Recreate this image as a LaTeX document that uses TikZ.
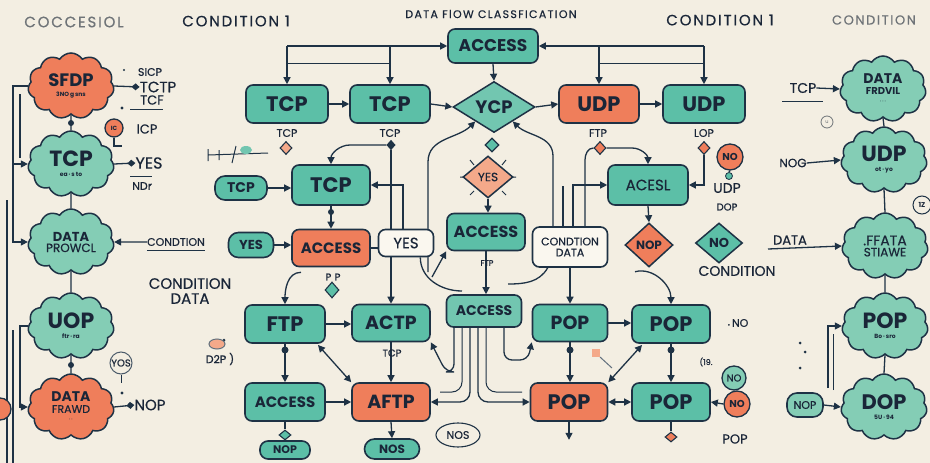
\documentclass[tikz,border=0pt]{standalone}
\usepackage{fontspec}
\setmainfont{Poppins}
\newfontfamily\hdrfont{Poppins}[LetterSpace=12,FakeBold=0.5]
\newfontfamily\medfont{Poppins}[FakeBold=0.5]
\usetikzlibrary{arrows.meta,shapes.geometric,shapes.symbols,calc}
\definecolor{bg}{HTML}{F3EEE2}
\definecolor{tl}{HTML}{5CBFA7}
\definecolor{tlc}{HTML}{84CDB5}
\definecolor{tll}{HTML}{72C6B0}
\definecolor{org}{HTML}{EF7E5B}
\definecolor{orl}{HTML}{F4A98A}
\definecolor{wht}{HTML}{FAF7EF}
\definecolor{dk}{HTML}{1E3245}
\definecolor{txt}{HTML}{1A2638}
\definecolor{gry}{HTML}{6F7478}
\newcommand\fsz[1]{\fontsize{#1}{#1}\selectfont}
\pgfdeclarelayer{back}
\pgfdeclarelayer{lines}
\pgfsetlayers{back,lines,main}
\begin{document}
\begin{tikzpicture}[x=1pt,y=-1pt,
  box/.style={rectangle, rounded corners=7pt, draw=dk, line width=1.6pt, fill=tl, text=txt, inner sep=0pt, font=\bfseries\fsz{21}},
  obox/.style={box, fill=org},
  wbox/.style={box, fill=wht},
  pill/.style={box, rounded corners=10pt, font=\bfseries\fsz{13}},
  dia/.style={diamond, draw=dk, line width=1.5pt, fill=tl, text=txt, inner sep=0pt, aspect=1.5, font=\bfseries\fsz{12}},
  sdia/.style={diamond, draw=dk, line width=1.1pt, minimum width=12pt, minimum height=13pt, inner sep=0pt},
  circ/.style={circle, draw=dk, line width=1.3pt, inner sep=0pt, text=txt},
  cloudn/.style={cloud, cloud puffs=11, cloud puff arc=115, aspect=1.3, draw=dk, line width=1.5pt, fill=tlc, text=txt, minimum width=86pt, minimum height=66pt, inner sep=0pt, align=center},
  cloudo/.style={cloudn, fill=org},
  lbl/.style={text=txt, inner sep=0pt, font=\medfont\fsz{11}},
  hdr/.style={text=txt, inner sep=0pt, font=\hdrfont\fsz{15}},
  ln/.style={draw=dk, line width=1.3pt},
  arr/.style={-{Triangle[length=7pt,width=7pt]}},
  darr/.style={{Triangle[length=7pt,width=7pt]}-{Triangle[length=7pt,width=7pt]}},
  dtip/.style={-{Diamond[length=8pt,width=7pt]}}
]
\begin{pgfonlayer}{back}
\fill[bg] (0,0) rectangle (930,463);
\end{pgfonlayer}
\useasboundingbox (0,0) rectangle (930,463);

% headers
\node[hdr, text=gry] (h1) at (74,22) {COCCESIOL};
\node[hdr] (h2) at (236,21) {CONDITION 1};
\node[hdr, font=\hdrfont\fsz{11}] (h3) at (491,14) {DATA FlOW CLASSFICATION};
\node[hdr] (h4) at (720,20) {CONDITION 1};
\node[hdr, text=gry, font=\hdrfont\fsz{13}] (h5) at (874,20) {CONDITION};

% left clouds
\node[cloudo] (c1) at (71,86) {\fsz{18}\bfseries SFDP\\[-2pt]\fsz{6}\bfseries 3NO\,g\,sns};
\node[cloudn] (c2) at (71,164) {\fsz{22}\bfseries TCP\\[-2pt]\fsz{6}\bfseries ea\,·\,s\,to};
\node[cloudn] (c3) at (71,242) {\fsz{13}\bfseries DATA\\[-1pt]\medfont\fsz{12}PROWCL};
\node[cloudn] (c4) at (71,326) {\fsz{22}\bfseries UOP\\[-2pt]\fsz{6}\bfseries ftr\,·\,ra};
\node[cloudo] (c5) at (71,407) {\fsz{14}\bfseries DATA\\[-1pt]\medfont\fsz{11}FRAWD\\[-3pt]\fsz{6}·\,·};

% right clouds
\node[cloudn] (c6) at (883,89) {\fsz{14}\bfseries DATA\\[-1pt]\fsz{10}\bfseries FRDVIL\\[-3pt]\fsz{6}·\,·\,·};
\node[cloudn] (c7) at (884,160) {\fsz{22}\bfseries UDP\\[-2pt]\fsz{6}\bfseries ot\,·\,yo};
\node[cloudn] (c8) at (885,246) {\medfont\fsz{14}.FFATA\\[-1pt]\medfont\fsz{12}STIAWE};
\node[cloudn] (c9) at (885,326) {\fsz{22}\bfseries POP\\[-2pt]\fsz{6}\bfseries Bo\,·\,sro};
\node[cloudn] (c10) at (884,407) {\fsz{21}\bfseries DOP\\[-2pt]\fsz{6}\bfseries 5U\,·\,94};

% left labels
\node[lbl] (sicp) at (150,72) {SICP};
\node[lbl, font=\medfont\fsz{15}] (tctp) at (158,87) {TCTP};
\node[lbl, font=\medfont\fsz{13}] (tcf) at (152,100) {TCF};
\node[circ, fill=org, minimum size=18pt, font=\bfseries\fsz{6}] (ic) at (114,128) {IC};
\node[lbl, font=\medfont\fsz{13}] (icp) at (147,129) {ICP};
\node[lbl, font=\medfont\fsz{16}] (yes1) at (149,163) {YES};
\node[lbl, font=\medfont\fsz{11}] (ndr) at (142,186) {NDr};
\node[lbl, font=\medfont\fsz{11}] (cond1) at (176,242) {CONDTION};
\node[lbl, font=\medfont\fsz{15}, align=center] (cond2) at (190,291) {CONDITION\\DATA};
\node[circ, draw=dk!80, line width=1pt, minimum size=22pt, font=\medfont\fsz{10}] (yos) at (121,363) {YOS};
\node[lbl, font=\medfont\fsz{15}] (nop1) at (150,405) {NOP};
\node[lbl, font=\medfont\fsz{11}] (d2p) at (220,359) {D2P )};
\node[ellipse, fill=orl, draw=dk!70, line width=1pt, minimum width=16pt, minimum height=10pt, inner sep=0pt] (blob) at (217,344) {};

% top row
\node[box, minimum width=90pt, minimum height=34pt, font=\bfseries\fsz{17}] (acc) at (493,46) {ACCESS};
\node[box, minimum width=82pt, minimum height=38pt] (tcp1) at (287,104) {TCP};
\node[box, minimum width=80pt, minimum height=38pt] (tcp2) at (390,104) {TCP};
\node[dia, fill=tll, minimum width=82pt, minimum height=51pt, font=\bfseries\fsz{18}] (ycp) at (494,107) {YCP};
\node[obox, minimum width=80pt, minimum height=38pt] (udp1) at (599,104) {UDP};
\node[box, minimum width=82pt, minimum height=38pt] (udp2) at (704,104) {UDP};
\node[lbl] (l1) at (287,133) {TCP};
\node[sdia, fill=orl] (d1) at (286,148) {};
\node[lbl] (l2) at (390,133) {TCP};
\node[sdia, fill=dk, minimum width=8pt, minimum height=9pt] (d2) at (391,145) {};
\node[lbl] (l3) at (598,133) {FTP};
\node[sdia, fill=org] (d3) at (600,148) {};
\node[lbl] (l4) at (704,133) {LOP};
\node[sdia, fill=org] (d4) at (704,148) {};

% middle
\node[pill, minimum width=52pt, minimum height=24pt, font=\bfseries\fsz{14}] (tcps) at (241,188) {TCP};
\node[box, minimum width=78pt, minimum height=40pt] (tcpm) at (331,185) {TCP};
\node[pill, minimum width=45pt, minimum height=25pt] (yesp) at (251,245) {YES};
\node[obox, minimum width=78pt, minimum height=37pt, font=\bfseries\fsz{15}] (acco) at (331,248) {ACCESS};
\node[wbox, minimum width=55pt, minimum height=27pt, font=\medfont\fsz{15}] (yesw) at (406,243) {YES};
\node[lbl, font=\medfont\fsz{10}] (l5) at (333,277) {P\,\,P};
\node[sdia, fill=tl, minimum width=14pt, minimum height=16pt] (d5) at (332,290) {};
\node[sdia, fill=tl, minimum width=14pt, minimum height=14pt] (d6) at (492,145) {};
\node[dia, fill=orl, minimum width=50pt, minimum height=42pt, font=\medfont\fsz{12}] (yesd) at (488,177) {YES};
\node[box, minimum width=78pt, minimum height=37pt, font=\bfseries\fsz{16}] (accm) at (486,232) {ACCESS};
\node[lbl, font=\medfont\fsz{8}] (l6) at (487,263) {FTP};
\node[wbox, minimum width=75pt, minimum height=40pt, font=\medfont\fsz{11}, align=center] (cond) at (570,247) {CONDTION\\DATA};
\node[box, minimum width=80pt, minimum height=40pt, font=\medfont\fsz{15}] (acesl) at (648,185) {ACESL};
\node[dia, fill=org, minimum width=48pt, minimum height=44pt, font=\bfseries\fsz{12}] (nopd) at (649,245) {NOP};
\node[dia, fill=tl, minimum width=47pt, minimum height=40pt, font=\bfseries\fsz{13}] (nod) at (719,243) {NO};
\node[lbl, font=\medfont\fsz{14}] (l7) at (737,271) {CONDITION};
\node[circ, fill=org, minimum size=26pt, font=\bfseries\fsz{10}] (no1) at (730,157) {NO};
\node[circ, fill=tl, minimum size=7pt, line width=0.8pt] (nos1) at (729,176) {};
\node[lbl, font=\medfont\fsz{14}] (l8) at (727,188) {UDP};
\node[lbl, font=\medfont\fsz{10}] (l9) at (727,207) {DOP};

% lower
\node[box, minimum width=80pt, minimum height=38pt] (ftp) at (285,324) {FTP};
\node[box, minimum width=78pt, minimum height=37pt, font=\bfseries\fsz{19}] (actp) at (391,323) {ACTP};
\node[lbl, font=\medfont\fsz{10}] (l10) at (392,353) {TCP};
\node[box, minimum width=80pt, minimum height=38pt, font=\bfseries\fsz{15}] (accl) at (285,402) {ACCESS};
\node[obox, minimum width=78pt, minimum height=38pt, font=\bfseries\fsz{19}] (aftp) at (391,402) {AFTP};
\node[sdia, fill=tl, minimum width=12pt, minimum height=10pt] (d7) at (285,435) {};
\node[pill, minimum width=50pt, minimum height=18pt, rounded corners=8pt, font=\bfseries\fsz{11}] (nopp) at (285,450) {NOP};
\node[pill, minimum width=55pt, minimum height=20pt, font=\bfseries\fsz{12}] (nosp) at (392,449) {NOS};
\node[ellipse, draw=dk, line width=1.1pt, minimum width=44pt, minimum height=24pt, inner sep=0pt, font=\medfont\fsz{11}, text=txt] (nose) at (458,435) {NOS};
\node[box, fill=tll, minimum width=75pt, minimum height=32pt, font=\bfseries\fsz{14}] (accl2) at (484,311) {ACCESS};
\node[box, minimum width=75pt, minimum height=37pt, font=\bfseries\fsz{19}] (pop1) at (570,323) {POP};
\node[box, minimum width=78pt, minimum height=38pt] (pop2) at (671,324) {POP};
\node[obox, minimum width=77pt, minimum height=38pt] (pop3) at (569,402) {POP};
\node[box, minimum width=78pt, minimum height=38pt] (pop4) at (671,402) {POP};
\node[sdia, fill=org, minimum width=12pt, minimum height=10pt] (d8) at (671,437) {};
\node[lbl, font=\medfont\fsz{11}] (l11) at (738,323) {{\fsz{6}\textbullet}\,NO};
\node[lbl, font=\medfont\fsz{8}] (l12) at (706,362) {(19.};
\node[circ, fill=tlc, minimum size=24pt, font=\medfont\fsz{10}] (no2) at (734,378) {NO};
\node[circ, fill=org, minimum size=26pt, font=\bfseries\fsz{10}] (no3) at (737,404) {NO};
\node[lbl, font=\medfont\fsz{13}] (l13) at (735,439) {POP};

% right labels
\node[lbl, font=\medfont\fsz{14}] (l14) at (803,88) {TCP};
\node[circ, draw=gry, line width=0.8pt, minimum size=12pt, font=\fsz{5}, text=gry] (sc1) at (827,122) {u};
\node[lbl, font=\medfont\fsz{12}] (l15) at (793,163) {NOG};
\node[lbl, font=\medfont\fsz{13}] (l16) at (790,240) {DATA};
\node[circ, line width=1pt, minimum size=18pt, font=\bfseries\fsz{7}] (sc2) at (922,205) {1Z};
\node[pill, minimum width=36pt, minimum height=24pt, fill=tlc, font=\medfont\fsz{11}] (nopr) at (805,405) {NOP};

\begin{pgfonlayer}{lines}
% top
\draw[ln,arr] (287,46) -- (acc.west);
\draw[ln,arr] (287,46) -- (tcp1.north);
\draw[ln,arr] (390,46) -- (tcp2.north);
\draw[ln,line width=1pt] (287,63) -- (390,63);
\draw[ln,arr] (704,46) -- (acc.east);
\draw[ln,arr] (704,46) -- (udp2.north);
\draw[ln,arr] (599,46) -- (udp1.north);
\draw[ln,line width=1pt] (599,63) -- (704,63);
\draw[ln,arr] (acc.south) -- (ycp.north);
\draw[ln,arr] (tcp1.east) -- (tcp2.west);
\draw[ln,arr] (tcp2.east) -- (ycp.west);
\draw[ln,arr] (ycp.east) -- (udp1.west);
\draw[ln,arr] (udp1.east) -- (udp2.west);
\coordinate (ycpsw) at ($(ycp.west)!0.55!(ycp.south)$);
\coordinate (ycpse) at ($(ycp.east)!0.55!(ycp.south)$);
\draw[ln,arr] (428,272) -- (428,162) to[out=90,in=-135] (ycpsw);
\draw[ln,arr] ($(cond.north)+(-17,0)$) -- ++(0,-70) to[out=90,in=-45] (ycpse);
% middle
\draw[ln,arr] (tcps.east) -- (tcps.east -| tcpm.west);
\draw[ln,arr] (d2.south) -- (d2.south |- actp.north);
\draw[ln,arr] (d2.west) -- (350,145) to[out=180,in=90] (tcpm.north);
\draw[ln,arr] ($(yesw.north)+(-3,0)$) |- (tcpm.east);
\draw[ln,arr] (tcpm.south) -- (acco.north);
\fill[dk] (331,212) circle (3pt);
\draw[ln,arr] (yesp.east) -- (yesp.east -| acco.west);
\draw[ln] (acco.east) -- (acco.east -| yesw.west);
\draw[ln,arr] ($(acco.south)+(-30,5)$) to[out=180,in=90] (ftp.north);
\draw[ln,arr] (yesd.south) -- (yesd.south |- accm.north);
\draw[ln,arr] (accm.south) -- (accm.south |- accl2.north);
\draw[ln,arr] (432,277) -- (accm.south west);
\draw[ln] ($(yesw.south east)+(-14,0)$) to[out=-90,in=180] (462,291);
\draw[ln] ($(cond.south west)+(16,0)$) to[out=-120,in=0] (508,284);
\draw[ln,arr] (cond.south) -- (cond.south |- pop1.north);
\draw[ln] ($(cond.north)+(-7,0)$) -- ++(0,-40);
\draw[ln,arr] ($(cond.north)+(3,0)$) |- (acesl.west);
\draw[ln] ($(cond.north)+(15,0)$) -- (585,160) to[out=90,in=180] (d3.west);
\draw[ln,arr] (d3.east) -- (632,148) to[out=0,in=90] (acesl.north);
\draw[ln,arr] (d4.south) |- (acesl.east);
\draw[ln,arr] (acesl.south) -- (nopd.north);
\draw[ln,arr] ($(nopd.south)+(-14,4)$) to[out=15,in=90] (pop2.north);
\draw[ln] (no1.south) -- (nos1.north);
\draw[ln,line width=1pt] (470,160) -- (474,165) (506,160) -- (502,165) (460,177) -- (464,177) (512,177) -- (516,177) (470,195) -- (474,191) (506,195) -- (502,191);
% lower
\draw[ln,arr] (ftp.east) -- (ftp.east -| actp.west);
\draw[ln,arr] (ftp.south) -- (accl.north);
\fill[dk] (285,350) circle (3.5pt);
\draw[ln,darr] (318,345) -- (aftp.north west);
\draw[ln,arr] (actp.south) -- (aftp.north);
\draw[ln,arr] (accl.east) -- (aftp.west);
\draw[ln] (accl.south) -- (d7.north);
\draw[ln,arr] (aftp.south) -- (nosp.north);
\draw[ln,arr,rounded corners=10pt] ($(accl2.south)+(-14,0)$) |- (aftp.east);
\draw[ln,arr,rounded corners=10pt] ($(accl2.south)+(-6,0)$) |- (pop3.west);
\draw[ln,line width=1pt,rounded corners=10pt] ($(accl2.south)+(2,0)$) |- (522,392);
\draw[ln,line width=1pt,rounded corners=10pt] ($(accl2.south)+(-22,0)$) |- (440,392);
\draw[ln,arr,rounded corners=8pt] ($(accl2.south)+(-30,0)$) |- (446,372) -- (actp.south east);
\draw[ln,arr,rounded corners=8pt] ($(accl2.south)+(20,0)$) |- (528,360) -- (pop1.south west);
\draw[ln,arr] (pop1.east) -- (pop1.east -| pop2.west);
\draw[ln,arr] (pop1.south) -- (pop1.south |- pop3.north);
\fill[dk] (570,350) circle (3.5pt);
\draw[ln,darr] (642,345) -- (pop3.north east);
\draw[ln,arr] (pop2.south) -- (pop4.north);
\fill[dk] (671,350) circle (3.5pt);
\draw[ln,darr] (pop3.east) -- (pop4.west);
\draw[ln,arr] (pop3.south) -- ++(0,18);
\draw[ln] (pop4.south) -- (d8.north);
\draw[ln,arr] (no3.west) -- (pop4.east);
\fill[orl] (592,349) rectangle (600,357);
\draw[dk!70,line width=1pt] (600,357) -- (612,368);
% left side
\draw[ln] (c1.south) -- (c2.north);
\draw[ln] (c2.south) -- (c3.north);
\draw[ln] (c3.south) -- (c4.north);
\draw[ln] (c4.south) -- (c5.north);
\fill[dk] (71,123) circle (3pt);
\fill[dk] (71,365) circle (3pt);
\draw[ln,arr] (c1.west) -| (13,130) |- (c2.west);
\draw[ln] (20,94) -- (20,158);
\draw[ln,arr] (13,164) |- (c3.west);
\draw[ln] (7,200) -- (7,463);
\draw[ln,arr] (c4.west) -| (20,360) |- (c5.west);
\draw[ln] (13,330) -- (13,463);
\draw[ln,fill=org] (0,409) circle (11pt);
\draw[ln,dtip] (c1.east) -- (tctp.west);
\draw[ln,dtip] (c2.east) -- (yes1.west);
\draw[ln,dtip] (c5.east) -- (nop1.west);
\draw[ln,arr] (cond1.west) -- (c3.east);
\draw[ln,line width=0.8pt] ($(cond1.south west)+(0,4)$) -- ($(cond1.south east)+(0,4)$);
\draw[ln,line width=1pt] (130,109) -- (163,109);
\draw[ln,line width=1pt] (130,176) -- (152,176);
\draw[ln,line width=1.1pt] (ic.south) -- ++(0,9) (114,146) -- (122,146);
\draw[ln,line width=1pt] (yos.south) -- ++(0,8);
\fill[dk] (122,393) circle (1.6pt) (124,70) circle (1.2pt) (122,108) circle (1.6pt);
\draw[ln,line width=1pt] (208,149) -- (208,161) (208,155) -- (268,153) (219,150) -- (219,160) (236,146) -- (232,163);
\fill[tll] (246,150) ellipse (6pt and 4pt);
\fill[dk] (212,342) circle (1.5pt) (224,340) circle (1.5pt);
% right side
\draw[ln] (c6.south) -- (c7.north);
\draw[ln] (c7.south) -- (c8.north);
\draw[ln] (c8.south) -- (c9.north);
\draw[ln] (c9.south) -- (c10.north);
\draw[ln,arr] (l14.east) -- (c6.west);
\draw[ln,line width=1pt] (782,101) -- (823,101);
\draw[ln,arr] (l15.east) -- (c7.west);
\draw[ln,arr] (768,249) -- (c8.west);
\draw[ln,arr] (nopr.east) -- (c10.west);
\draw[ln,arr] (828,388) |- (c9.west);
\draw[ln,line width=1pt] (833,390) -- (833,334);
\fill[dk] (800,343) circle (1.5pt) (805,352) circle (1.5pt) (800,368) circle (1.5pt);
\end{pgfonlayer}
\end{tikzpicture}
\end{document}
